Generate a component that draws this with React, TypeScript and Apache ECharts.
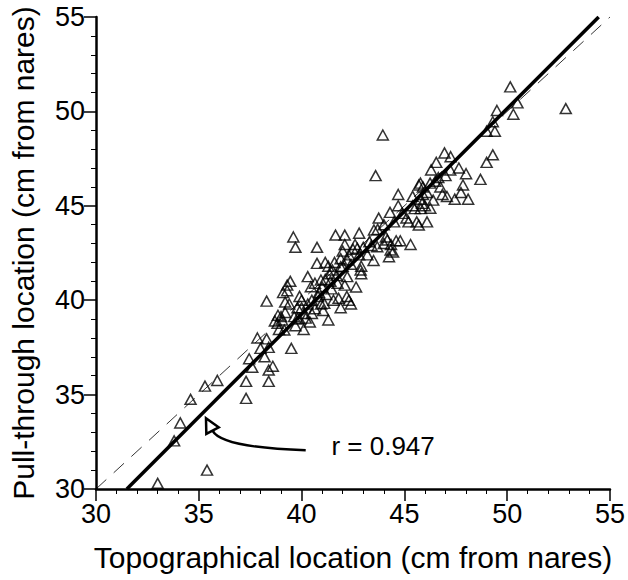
import React, { useEffect, useRef } from "react";
import * as echarts from "echarts";

// Topographical (x) vs pull-through (y) location, cm from nares
const points: number[][] = [
  [33.0,30.3],[35.4,31.0],[33.8,32.55],[34.1,33.5],[34.6,34.75],[35.3,35.45],[35.9,35.75],
  [37.3,35.7],[37.3,34.8],[37.45,36.9],[37.6,36.45],[37.85,38.0],[38.0,37.45],[38.2,37.0],
  [38.3,37.95],[38.4,37.5],[38.4,36.3],[38.6,36.5],[38.4,35.7],[38.3,39.95],[39.5,37.45],
  [38.9,38.45],[38.85,39.2],[39.05,38.95],[39.2,39.35],[39.1,40.4],[39.3,40.8],[39.45,41.0],
  [39.6,43.35],[39.7,42.8],[39.2,39.9],[39.4,39.8],[39.7,38.65],[39.9,40.2],[39.8,39.05],
  [40.0,39.6],[40.1,38.45],[40.2,39.05],[40.3,39.8],[40.4,38.85],[40.3,41.25],[40.5,40.0],
  [40.65,39.55],[40.75,42.8],[40.75,41.95],[40.65,40.9],[40.85,40.4],[40.95,39.8],[41.05,39.45],
  [41.15,42.0],[41.15,41.1],[41.2,40.3],[41.3,38.95],[41.35,41.4],[41.45,40.6],[41.55,40.0],
  [41.65,43.45],[41.75,40.9],[41.8,40.1],[41.9,39.6],[41.9,42.2],[42.0,41.8],[42.1,40.8],
  [42.1,43.45],[42.1,42.95],[42.2,40.2],[42.3,42.4],[42.4,41.9],[42.5,42.7],[42.6,42.95],
  [42.65,40.7],[42.4,39.8],[42.8,43.55],[42.8,42.4],[42.9,41.8],[42.9,41.4],[43.2,42.4],
  [43.4,42.9],[43.5,42.1],[43.7,43.75],[43.6,46.6],[43.75,44.35],[43.95,48.75],[44.0,43.0],
  [44.1,43.35],[44.25,42.3],[44.3,44.65],[44.35,42.95],[44.45,42.55],[44.5,44.15],[44.6,43.15],
  [44.7,45.6],[44.7,45.0],[44.8,43.15],[45.1,44.35],[45.2,44.15],[45.3,42.95],[45.4,45.5],
  [45.5,44.85],[45.6,44.15],[45.7,46.1],[45.8,45.35],[45.8,44.85],[45.9,45.6],[46.0,45.0],
  [46.1,45.7],[46.1,44.15],[46.25,46.2],[46.3,46.9],[46.4,45.3],[46.55,47.3],[46.65,46.5],
  [46.75,46.0],[46.85,45.6],[46.95,47.8],[47.0,46.6],[47.25,47.6],[47.45,45.35],[47.65,47.0],
  [47.75,45.7],[47.85,46.1],[48.0,46.7],[48.1,45.35],[48.7,46.4],[49.0,47.3],[49.3,47.7],
  [49.0,48.95],[49.3,49.45],[49.5,50.05],[49.4,48.95],[50.15,51.3],[50.3,49.85],[50.5,50.45],
  [52.85,50.15],
  [39.3,40.5],[40.45,40.71],[40.94,41.07],[41.1,39.83],[42.3,40.0],[40.13,39.3],[39.64,39.13],
  [39.0,39.13],[38.83,38.78],[39.16,38.42],[41.9,41.77],[42.22,42.13],[42.87,41.6],[42.22,41.25],
  [47.23,46.9],[45.78,46.2],[47.07,45.49],[45.86,45.13],[46.26,44.87],[45.7,43.98],[43.52,43.72],
  [44.17,43.19],[44.33,42.66],[43.68,42.83],[42.71,42.75],
  [41.3,41.8],[41.4,41.0],[41.5,41.6],[41.6,42.0],[41.0,40.7],[40.8,40.2],[41.7,41.3],[42.0,42.6],
  [43.0,42.8],[43.3,43.1],[44.0,44.0],[44.9,44.6],[45.4,45.0],[45.9,46.0],[46.5,46.3],[40.0,40.0],
  [39.8,39.6],[38.7,38.9],[39.9,39.0],[40.5,39.3]
];

// Regression line end points and identity (line of equality) end points
const fitLine: number[][] = [[31.5, 30], [54.45, 55]];
const identityLine: number[][] = [[30, 30], [55, 55]];

// Annotation: label, its anchor, arrow tail, curve control, arrow tip
const rLabel = "r = 0.947";
const rLabelAt = [41.45, 32.3];
const arrowTail = [40.2, 32.05];
const arrowCtrl = [36.1, 32.2];
const arrowTip = [35.35, 33.75];

const xTicks = [30, 35, 40, 45, 50, 55];
const yTicks = [30, 35, 40, 45, 50, 55];

const FONT = "'Liberation Sans', Arial, Helvetica, sans-serif";

export default function App() {
  const ref = useRef<HTMLDivElement>(null);
  useEffect(() => {
    if (!ref.current) return;
    const chart = echarts.init(ref.current, null, { renderer: "svg" });
    const axisCommon = {
      type: "value" as const,
      min: xTicks[0],
      max: xTicks[xTicks.length - 1],
      interval: 5,
      nameLocation: "middle" as const,
      nameTextStyle: { fontFamily: FONT, fontSize: 30, color: "#000" },
      axisLine: { show: true, onZero: false, lineStyle: { color: "#000", width: 2.5 } },
      axisTick: { show: true, length: 12, lineStyle: { color: "#000", width: 1.5 } },
      minorTick: { show: true, splitNumber: 5, length: 5, lineStyle: { color: "#000", width: 1 } },
      splitLine: { show: false },
      axisLabel: { fontFamily: FONT, fontSize: 27, color: "#000", margin: 11 },
    };
    chart.setOption({
      animation: false,
      backgroundColor: "#fff",
      grid: { left: 96, right: 16, top: 17, bottom: 91, containLabel: false },
      xAxis: { ...axisCommon, name: "Topographical location (cm from nares)", nameGap: 53 },
      yAxis: {
        ...axisCommon,
        min: yTicks[0],
        max: yTicks[yTicks.length - 1],
        name: "Pull-through location (cm from nares)",
        nameGap: 58,
      },
      series: [
        {
          type: "line",
          data: identityLine,
          symbol: "none",
          lineStyle: { color: "#000", width: 0.8, type: [14, 10] },
          z: 1,
        },
        {
          type: "scatter",
          data: points,
          symbol: "triangle",
          symbolSize: [11, 10],
          itemStyle: { color: "rgba(255,255,255,0)", borderColor: "#000", borderWidth: 1.5 },
          z: 2,
        },
        {
          type: "line",
          data: fitLine,
          symbol: "none",
          lineStyle: { color: "#000", width: 3.5 },
          z: 3,
        },
        {
          type: "custom",
          data: [arrowTail],
          clip: false,
          z: 4,
          renderItem: (params: any, api: any) => {
            const t = api.coord(arrowTail);
            const c = api.coord(arrowCtrl);
            const tip = api.coord(arrowTip);
            const lab = api.coord(rLabelAt);
            let dx = tip[0] - c[0];
            let dy = tip[1] - c[1];
            const len = Math.sqrt(dx * dx + dy * dy) || 1;
            dx /= len; dy /= len;
            const L = 14, W = 7;
            const bx = tip[0] - dx * L, by = tip[1] - dy * L;
            const px = -dy, py = dx;
            return {
              type: "group",
              children: [
                {
                  type: "bezierCurve",
                  shape: { x1: t[0], y1: t[1], cpx1: c[0], cpy1: c[1], x2: bx, y2: by },
                  style: { stroke: "#000", lineWidth: 2.5, fill: null },
                },
                {
                  type: "polygon",
                  shape: {
                    points: [
                      [tip[0], tip[1]],
                      [bx + px * W, by + py * W],
                      [bx - px * W, by - py * W],
                    ],
                  },
                  style: { stroke: "#000", lineWidth: 2.5, fill: "#fff", lineJoin: "miter" },
                },
                {
                  type: "text",
                  x: lab[0],
                  y: lab[1],
                  style: {
                    text: rLabel,
                    font: `26px ${FONT}`,
                    fill: "#000",
                    align: "left",
                    verticalAlign: "middle",
                  },
                },
              ],
            };
          },
        },
      ],
    });
    return () => chart.dispose();
  }, []);
  return (
    <div
      ref={ref}
      style={{ position: "absolute", left: 0, top: 0, width: 628, height: 580, background: "#fff" }}
    />
  );
}
